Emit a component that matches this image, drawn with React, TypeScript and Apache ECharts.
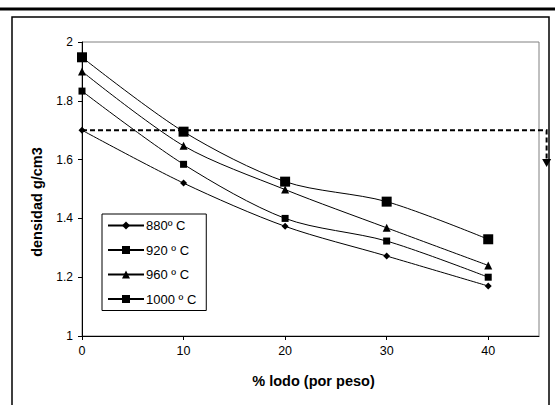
import React, { useEffect, useRef } from "react";
import * as echarts from "echarts";

const xValues = [0, 10, 20, 30, 40];
const seriesNames = ["880º C", "920 º C", "960 º C", "1000 º C"];
const s880 = [1.7, 1.52, 1.373, 1.272, 1.17];
const s920 = [1.833, 1.584, 1.4, 1.323, 1.2];
const s960 = [1.9, 1.647, 1.498, 1.368, 1.24];
const s1000 = [1.948, 1.695, 1.525, 1.457, 1.329];
const refLevel = 1.7;
const refArrowX = 45.75;
const refArrowY = 1.575;
const xTicks = [0, 10, 20, 30, 40];

const FONT = "'Liberation Sans', Arial, sans-serif";

export default function App() {
  const ref = useRef<HTMLDivElement>(null);
  useEffect(() => {
    if (!ref.current) return;
    const chart = echarts.init(ref.current, undefined, { renderer: "svg" });
    const mk = (vals: number[]) => vals.map((v, i) => [xValues[i], v]);
    const symbols = ["diamond", "rect", "triangle", "rect"];
    const sizes = [7, 7, 8, 10];
    const data = [s880, s920, s960, s1000];
    const lineSeries = data.map((vals, i) => ({
      name: seriesNames[i],
      type: "line",
      data: mk(vals),
      smooth: 0.3,
      symbol: symbols[i],
      symbolSize: sizes[i],
      showSymbol: true,
      lineStyle: { color: "#000", width: 1 },
      itemStyle: { color: "#000" },
      z: 3,
    }));
    chart.setOption({
      animation: false,
      backgroundColor: "#fff",
      textStyle: { fontFamily: FONT },
      grid: {
        left: 82,
        top: 42,
        right: 16,
        bottom: 69,
        show: true,
        borderColor: "#808080",
        borderWidth: 1,
        backgroundColor: "#fff",
      },
      legend: {
        data: seriesNames,
        orient: "vertical",
        left: 102,
        top: 214,
        backgroundColor: "#fff",
        borderColor: "#000",
        borderWidth: 1,
        borderRadius: 0,
        padding: [5, 10, 5, 5],
        itemWidth: 36,
        itemHeight: 10,
        itemGap: 11.5,
        textStyle: { fontFamily: FONT, fontSize: 13, color: "#000", padding: [0, 0, 0, -3] },
        inactiveColor: "#000",
      },
      xAxis: {
        type: "value",
        min: 0,
        max: 45,
        interval: 10,
        name: "% lodo (por peso)",
        nameLocation: "middle",
        nameGap: 37,
        nameTextStyle: {
          fontFamily: FONT,
          fontSize: 14.5,
          fontWeight: "bold",
          color: "#000",
          padding: [0, 0, 0, 6],
        },
        axisLine: { show: true, lineStyle: { color: "#000", width: 1 } },
        axisTick: { show: true, inside: false, length: 4, lineStyle: { color: "#000" }, customValues: xTicks },
        axisLabel: { fontFamily: FONT, fontSize: 12.5, color: "#000", margin: 8, customValues: xTicks },
        splitLine: { show: false },
      },
      yAxis: {
        type: "value",
        min: 1,
        max: 2,
        interval: 0.2,
        name: "densidad g/cm3",
        nameLocation: "middle",
        nameGap: 38,
        nameTextStyle: {
          fontFamily: FONT,
          fontSize: 14.5,
          fontWeight: "bold",
          color: "#000",
          padding: [0, 26, 0, 0],
        },
        axisLine: { show: true, lineStyle: { color: "#000", width: 1 } },
        axisTick: { show: true, inside: false, length: 4, lineStyle: { color: "#000" } },
        axisLabel: { fontFamily: FONT, fontSize: 12, color: "#000", margin: 9 },
        splitLine: { show: false },
      },
      series: [
        ...lineSeries,
        {
          name: "ref",
          type: "custom",
          clip: false,
          silent: true,
          z: 4,
          data: [[0, refLevel, refArrowX, refArrowY]],
          renderItem: (params: any, api: any) => {
            const p0 = api.coord([api.value(0), api.value(1)]);
            const p1 = api.coord([api.value(2), api.value(1)]);
            const p2 = api.coord([api.value(2), api.value(3)]);
            const aw = 4.5;
            const ah = 8;
            return {
              type: "group",
              children: [
                {
                  type: "polyline",
                  shape: { points: [p0, p1, [p2[0], p2[1] - ah + 1]] },
                  style: { stroke: "#000", lineWidth: 2, lineDash: [5, 3], fill: "none" },
                },
                {
                  type: "polygon",
                  shape: {
                    points: [
                      [p2[0] - aw, p2[1] - ah],
                      [p2[0] + aw, p2[1] - ah],
                      [p2[0], p2[1]],
                    ],
                  },
                  style: { fill: "#000", stroke: "none" },
                },
              ],
            };
          },
        },
      ],
      graphic: [
        {
          type: "line",
          shape: { x1: 0, y1: 9, x2: 555, y2: 9 },
          style: { stroke: "#000", lineWidth: 3 },
          silent: true,
        },
        {
          type: "rect",
          shape: { x: 12, y: 17, width: 537, height: 400 },
          style: { stroke: "#000", lineWidth: 1.5, fill: "none" },
          silent: true,
          z: -1,
        },
      ],
    });
    return () => chart.dispose();
  }, []);
  return (
    <div
      ref={ref}
      style={{ position: "fixed", left: 0, top: 0, width: 555, height: 405, background: "#fff" }}
    />
  );
}
